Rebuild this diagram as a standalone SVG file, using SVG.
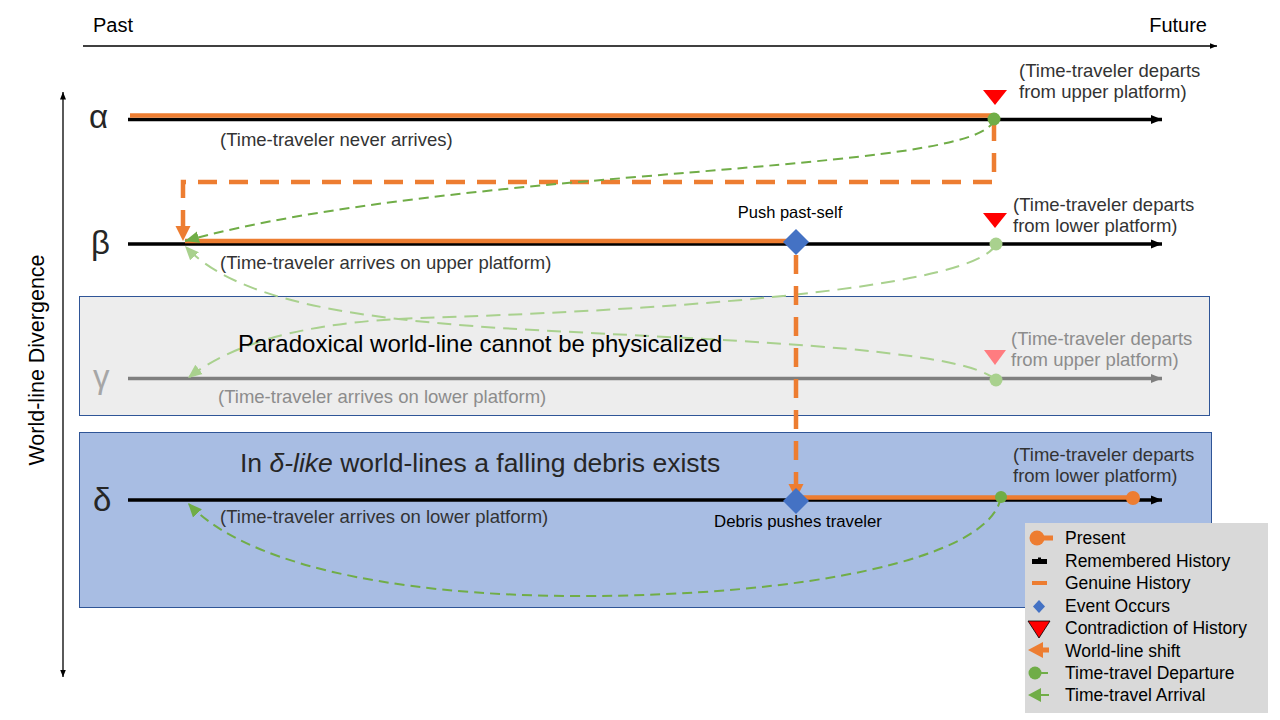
<svg xmlns="http://www.w3.org/2000/svg" width="1280" height="720" viewBox="0 0 1280 720">
<defs>
<style>
text{font-family:"Liberation Sans",Arial,sans-serif;}
.paren{font-size:18.5px;fill:#333333}
.pg{font-size:18.5px;fill:#8c8c8c}
.greek{font-size:33px;fill:#262626}
.cal{fill:#000}
.leg{font-size:17.5px;fill:#000}
.wl{stroke:#000;stroke-width:3.5;fill:none}
.gen{stroke:#ED7D31;stroke-width:4.5;fill:none}
.shift{stroke:#ED7D31;stroke-width:4.5;fill:none;stroke-dasharray:19 12}
.tt{stroke:#70AD47;stroke-width:2;fill:none;stroke-dasharray:10 6}
.ttl{stroke:#A9D18E;stroke-width:2;fill:none;stroke-dasharray:14 8}
</style>
<marker id="ab" markerUnits="userSpaceOnUse" markerWidth="12" markerHeight="12" viewBox="0 0 12 12" refX="11" refY="6" orient="auto"><path d="M0,1.5 L11,6 L0,10.5Z" fill="#000"/></marker>
<marker id="ag" markerUnits="userSpaceOnUse" markerWidth="12" markerHeight="12" viewBox="0 0 12 12" refX="11" refY="6" orient="auto"><path d="M0,1.5 L11,6 L0,10.5Z" fill="#7F7F7F"/></marker>
<marker id="as" markerUnits="userSpaceOnUse" markerWidth="8" markerHeight="8" viewBox="0 0 8 8" refX="7.5" refY="4" orient="auto-start-reverse"><path d="M0,1 L7.5,4 L0,7Z" fill="#000"/></marker>
<marker id="atg" markerUnits="userSpaceOnUse" markerWidth="16" markerHeight="16" viewBox="0 0 16 16" refX="14" refY="8" orient="auto"><path d="M0,2 L14,8 L0,14Z" fill="#70AD47"/></marker>
<marker id="atl" markerUnits="userSpaceOnUse" markerWidth="16" markerHeight="16" viewBox="0 0 16 16" refX="14" refY="8" orient="auto"><path d="M0,2 L14,8 L0,14Z" fill="#A9D18E"/></marker>
<marker id="ao" markerUnits="userSpaceOnUse" markerWidth="18" markerHeight="18" viewBox="0 0 18 18" refX="15" refY="9" orient="auto"><path d="M0,1.5 L15,9 L0,16.5Z" fill="#ED7D31"/></marker>
</defs>
<rect width="1280" height="720" fill="#fff"/>

<g id="boxes">
<rect x="79.5" y="296.5" width="1130" height="119" fill="#EDEDED" stroke="#2F5597" stroke-width="1"/>
<rect x="79.5" y="432.5" width="1132" height="175" fill="#A8BDE3" stroke="#2F5597" stroke-width="1"/>
</g>

<g id="axes">
<line x1="83" y1="46" x2="1217" y2="46" stroke="#000" stroke-width="1.3" marker-end="url(#as)"/>
<line x1="63" y1="92" x2="63" y2="677" stroke="#000" stroke-width="1.3" marker-start="url(#as)" marker-end="url(#as)"/>
<text x="93" y="32" class="cal" font-size="20">Past</text>
<text x="1207" y="32" class="cal" font-size="20" text-anchor="end">Future</text>
<text transform="translate(44,360) rotate(-90)" class="cal" font-size="21.5" text-anchor="middle">World-line Divergence</text>
</g>

<g id="connectors">
<path class="wl" d="M128,119.5 H1162" marker-end="url(#ab)"/>
<path class="gen" d="M130,115.5 H994"/>
<path class="wl" d="M128,244 H1162" marker-end="url(#ab)"/>
<path class="gen" d="M185,241 H796"/>
<path d="M128,378.5 H1162" stroke="#7F7F7F" stroke-width="3.5" fill="none" marker-end="url(#ag)"/>
<path class="wl" d="M128,500 H1162" marker-end="url(#ab)"/>
<path class="gen" d="M800,497.5 H1133"/>
<path class="shift" d="M994,122 V182 H183 V241" marker-end="url(#ao)"/>
<path class="tt" d="M994,119 C985,175 460,165 185,241" marker-end="url(#atg)"/>
<path class="ttl" d="M996,244 C975,292 620,312 420,318 C300,322 230,345 188,378" marker-end="url(#atl)"/>
<path class="ttl" d="M996,380 C960,346 700,340 500,328 C350,318 235,300 185,246" marker-end="url(#atl)"/>
<path class="tt" d="M1001,497 C990,560 800,596 580,596 C380,596 240,560 188,503" stroke-width="2.5" marker-end="url(#atg)"/>
</g>

<g id="alpha">
<text x="89" y="128" class="greek">α</text>
<circle cx="994" cy="119" r="6.5" fill="#70AD47"/>
<path d="M983,90 L1007,90 L995,105Z" fill="#FF0000"/>
<text x="1019" y="77" class="paren">(Time-traveler departs</text>
<text x="1019" y="98" class="paren">from upper platform)</text>
<text x="220" y="146" class="paren">(Time-traveler never arrives)</text>
</g>

<g id="beta">
<text x="91" y="254" class="greek">β</text>
<path d="M796,229 L809,242 L796,255 L783,242Z" fill="#4472C4"/>
<path class="shift" d="M796,255 V499" marker-end="url(#ao)"/>
<text x="790" y="218" class="cal" font-size="16.5" text-anchor="middle">Push past-self</text>
<circle cx="996" cy="244" r="6.5" fill="#A9D18E"/>
<path d="M983,213 L1007,213 L995,228Z" fill="#FF0000"/>
<text x="1013" y="211" class="paren">(Time-traveler departs</text>
<text x="1013" y="232" class="paren">from lower platform)</text>
<text x="220" y="269" class="paren">(Time-traveler arrives on upper platform)</text>
</g>

<g id="gamma">
<text x="93" y="388" class="greek" style="fill:#A6A6A6">γ</text>
<circle cx="996" cy="380" r="6.5" fill="#A9D18E"/>
<path d="M984,350 L1006,350 L995,365Z" fill="#FF7C80"/>
<text x="1011" y="345" class="pg">(Time-traveler departs</text>
<text x="1011" y="366" class="pg">from upper platform)</text>
<text x="238" y="352" class="cal" font-size="24">Paradoxical world-line cannot be physicalized</text>
<text x="218" y="403" class="pg">(Time-traveler arrives on lower platform)</text>
</g>

<g id="delta">
<text x="93" y="511" class="greek">δ</text>
<path d="M796,488 L809,501 L796,514 L783,501Z" fill="#4472C4"/>
<circle cx="1001" cy="497" r="6" fill="#70AD47"/>
<circle cx="1133" cy="498" r="7" fill="#ED7D31"/>
<text x="798" y="527" class="cal" font-size="16.8" text-anchor="middle">Debris pushes traveler</text>
<text x="1013" y="461" class="paren">(Time-traveler departs</text>
<text x="1013" y="482" class="paren">from lower platform)</text>
<text x="240" y="472" font-size="26.5" fill="#262626">In <tspan font-style="italic">δ-like</tspan> world-lines a falling debris exists</text>
<text x="220" y="523" class="paren">(Time-traveler arrives on lower platform)</text>
</g>

<g id="legend">
<rect x="1025" y="523" width="243" height="190" fill="#D9D9D9"/>
<circle cx="1037" cy="538" r="7.5" fill="#ED7D31"/>
<rect x="1037" y="535.5" width="16" height="5" fill="#ED7D31"/>
<text x="1065" y="544" class="leg">Present</text>
<rect x="1032" y="559" width="15" height="5" fill="#000"/>
<rect x="1038" y="557.5" width="3" height="2" fill="#000"/>
<text x="1065" y="566.5" class="leg">Remembered History</text>
<rect x="1032" y="581" width="15" height="4" fill="#ED7D31"/>
<text x="1065" y="589" class="leg">Genuine History</text>
<path d="M1039,600 L1045,606.5 L1039,613 L1033,606.5Z" fill="#4472C4"/>
<text x="1065" y="611.5" class="leg">Event Occurs</text>
<path d="M1028,621 L1050,621 L1039,638Z" fill="#FF0000" stroke="#000" stroke-width="0.8"/>
<text x="1065" y="634" class="leg">Contradiction of History</text>
<path d="M1028,650 L1043,642 L1043,647.5 L1049,647.5 L1049,652.5 L1043,652.5 L1043,658Z" fill="#ED7D31"/>
<text x="1065" y="656.5" class="leg">World-line shift</text>
<circle cx="1035" cy="673" r="6.5" fill="#70AD47"/>
<rect x="1040" y="672" width="8" height="2" fill="#70AD47"/>
<text x="1065" y="679" class="leg">Time-travel Departure</text>
<path d="M1028,695 L1041,688 L1041,694 L1049,694 L1049,696 L1041,696 L1041,702Z" fill="#70AD47"/>
<text x="1065" y="701" class="leg">Time-travel Arrival</text>
</g>
</svg>
